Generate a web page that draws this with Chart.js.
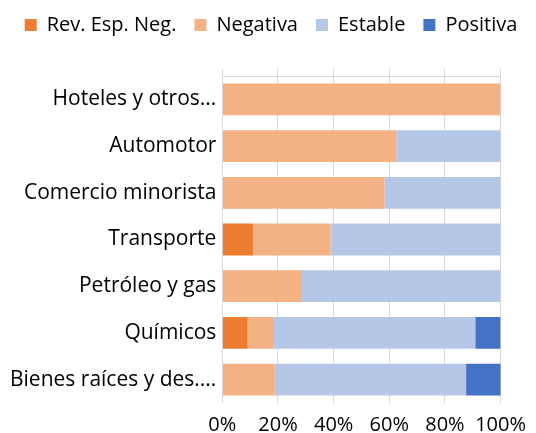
<!DOCTYPE html>
<html>
<head>
<meta charset="utf-8">
<script src="https://cdn.jsdelivr.net/npm/chart.js@4"></script>
<style>
  html, body { margin: 0; padding: 0; background: #fff; }
  #wrap { width: 536px; height: 433px; }
</style>
</head>
<body>
<div id="wrap"><canvas id="chart" width="536" height="433"></canvas></div>
<script>
// categories (top to bottom) and shares per outlook, in %
const categories = [
  "Hoteles y otros...",
  "Automotor",
  "Comercio minorista",
  "Transporte",
  "Petróleo y gas",
  "Químicos",
  "Bienes raíces y des...."
];
const revEspNeg = [0, 0, 0, 11.1, 0, 9.1, 0];
const negativa  = [100, 62.5, 58.3, 27.8, 28.6, 9.1, 18.8];
const estable   = [0, 37.5, 41.7, 61.1, 71.4, 72.7, 68.8];
const positiva  = [0, 0, 0, 0, 0, 9.1, 12.5];
const xTicks = [0, 20, 40, 60, 80, 100];

const FONT = "'Open Sans', 'Liberation Sans', sans-serif";
const GRID = "#d9d9d9";

const ds = (label, data, color) => ({
  label, data, backgroundColor: color, borderWidth: 0,
  categoryPercentage: 1, barPercentage: 0.68
});

// extra room under the legend
const legendGap = {
  id: "legendGap",
  beforeInit(chart) {
    const fit = chart.legend.fit;
    chart.legend.fit = function () {
      fit.call(this);
      this.height += 24;
    };
  }
};

new Chart(document.getElementById("chart"), {
  type: "bar",
  data: {
    labels: categories,
    datasets: [
      ds("Rev. Esp. Neg.", revEspNeg, "#ED7D31"),
      ds("Negativa", negativa, "#F4B183"),
      ds("Estable", estable, "#B4C7E7"),
      ds("Positiva", positiva, "#4472C4")
    ]
  },
  plugins: [legendGap],
  options: {
    indexAxis: "y",
    responsive: false,
    animation: false,
    layout: { padding: { left: 4, right: -2, top: -3, bottom: -14 } },
    plugins: {
      tooltip: { enabled: false },
      legend: {
        position: "top",
        labels: {
          boxWidth: 12, boxHeight: 12, padding: 18,
          color: "#000", font: { family: FONT, size: 20 }
        }
      }
    },
    scales: {
      x: {
        stacked: true, min: 0, max: 100,
        afterBuildTicks: s => { s.ticks = xTicks.map(v => ({ value: v })); },
        ticks: { callback: v => v + "%", color: "#000", padding: 10,
                 font: { family: FONT, size: 20 }, maxRotation: 0 },
        grid: { color: GRID, drawTicks: false },
        border: { display: false }
      },
      x2: {
        position: "top", min: 0, max: 100,
        afterBuildTicks: s => { s.ticks = xTicks.map(v => ({ value: v })); },
        ticks: { display: false },
        grid: { color: GRID, drawOnChartArea: false, tickLength: 7 },
        border: { display: true, color: GRID }
      },
      y: {
        stacked: true,
        ticks: { color: "#000", padding: 6, font: { family: FONT, size: 21 } },
        grid: { display: false, drawTicks: false },
        border: { display: false }
      }
    }
  }
});
</script>
</body>
</html>
